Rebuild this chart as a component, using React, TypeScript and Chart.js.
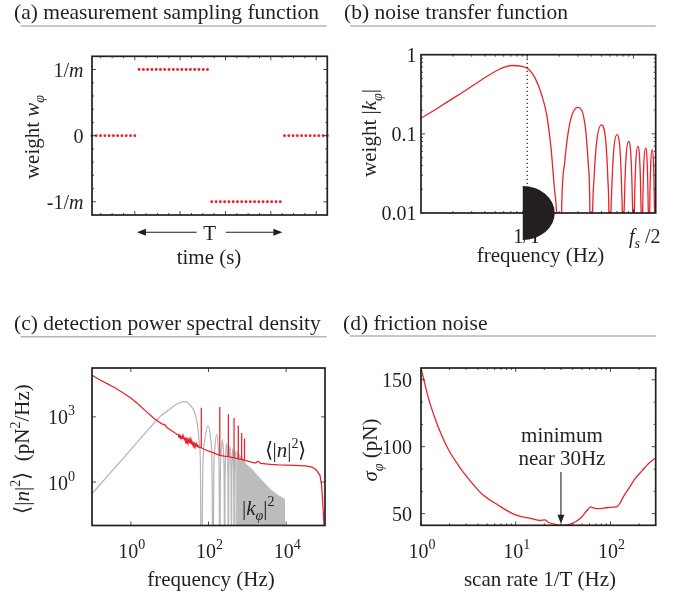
import React, { useEffect, useRef } from 'react';
import { Chart, registerables } from 'chart.js';
Chart.register(...registerables);

const SERIF = '"Liberation Serif", "Times New Roman", Times, serif';
const INK = '#231f20';
const RED = '#e8232b';
const GRAY = '#bcbcbc';
const RULE = '#b5b5b5';

type Part = { t: string; it?: boolean; sup?: boolean; sub?: boolean };

// ---------- (a) measurement sampling function ----------
const sampleIndex = [0, 1, 2, 3, 4, 5, 6, 7, 8, 9, 10, 11, 12, 13, 14, 15, 16, 17, 18, 19, 20, 21, 22, 23, 24, 25, 26, 27,
  28, 29, 30, 31, 32, 33, 34, 35, 36, 37, 38, 39, 40, 41, 42, 43, 44, 45, 46, 47, 48, 49, 50, 51, 52, 53, 54, 55];
const sampleWeight = [0, 0, 0, 0, 0, 0, 0, 0, 0, 0, 0,
  1, 1, 1, 1, 1, 1, 1, 1, 1, 1, 1, 1, 1, 1, 1, 1, 1,
  -1, -1, -1, -1, -1, -1, -1, -1, -1, -1, -1, -1, -1, -1, -1, -1, -1,
  0, 0, 0, 0, 0, 0, 0, 0, 0, 0, 0];
const weightTickValues = [1, 0, -1];
const weightTickLabels: Part[][] = [[{ t: '1/' }, { t: 'm', it: true }], [{ t: '0' }], [{ t: '-1/' }, { t: 'm', it: true }]];
const timeMajorTicks = [10, 20.6, 31.2, 41.8, 52.4];
const timeMinorTicks = [2.05, 4.7, 7.35, 12.65, 15.3, 17.95, 23.25, 25.9, 28.55, 33.85, 36.5, 39.15, 44.45, 47.1, 49.75];
const weightMinorTicks = [-0.8, -0.6, -0.4, -0.2, 0.2, 0.4, 0.6, 0.8];

// ---------- (b) noise transfer function (frequency in units of 1/T) ----------
const transferFreq = [0.1, 0.135, 0.18, 0.26, 0.37, 0.535, 0.62, 0.715, 0.89, 1.024, 1.184, 1.369, 1.526, 1.675, 1.8, 1.9, 1.96, 2,
  2.1, 2.25, 2.5, 3, 3.5, 3.75, 3.9, 4,
  4.1, 4.25, 4.5, 5, 5.5, 5.75, 5.9, 6,
  6.1, 6.25, 6.5, 7, 7.5, 7.75, 7.9, 8,
  8.1, 8.25, 8.5, 9, 9.5, 9.75, 9.9, 10,
  10.1, 10.25, 10.5, 11, 11.5, 11.75, 11.9, 12,
  12.1, 12.25, 12.5, 13, 13.5, 13.75, 13.9, 14,
  14.1, 14.25, 14.5, 15, 15.5, 15.75, 15.9, 16,
  16.1, 16.2];
const transferMag = [0.158, 0.2, 0.257, 0.35, 0.48, 0.645, 0.7, 0.73, 0.71, 0.66, 0.51, 0.31, 0.174, 0.066, 0.021, 0.009, 0.002, 0.00001,
  0.0086, 0.043, 0.13, 0.216, 0.13, 0.043, 0.0086, 0.00001,
  0.0052, 0.026, 0.078, 0.13, 0.078, 0.026, 0.0052, 0.00001,
  0.0039, 0.0195, 0.0585, 0.0975, 0.0585, 0.0195, 0.0039, 0.00001,
  0.0032, 0.016, 0.048, 0.08, 0.048, 0.016, 0.0032, 0.00001,
  0.0028, 0.0139, 0.0417, 0.0695, 0.0417, 0.0139, 0.0028, 0.00001,
  0.0026, 0.0132, 0.0396, 0.066, 0.0396, 0.0132, 0.0026, 0.00001,
  0.0025, 0.0126, 0.0378, 0.063, 0.0378, 0.0126, 0.0025, 0.00001,
  0.0025, 0.011];
const transferYTicks = [1, 0.1, 0.01];
const transferYLabels = ['1', '0.1', '0.01'];
const transferXTicks = [1, 16.2];
const transferXLabels: Part[][] = [[{ t: '1/T' }], [{ t: 'f', it: true }, { t: 's', it: true, sub: true }, { t: ' /2' }]];
const transferXMinor = [0.2, 0.3, 0.4, 0.5, 0.6, 0.7, 0.8, 0.9, 2, 3, 4, 5, 6, 7, 8, 9];
const transferXMajor = [1, 10];
const transferYMinor = [0.02, 0.03, 0.04, 0.05, 0.06, 0.07, 0.08, 0.09, 0.2, 0.3, 0.4, 0.5, 0.6, 0.7, 0.8, 0.9];
const transferYMajor = [0.1];

// ---------- (c) detection power spectral density ----------
const psdFreq = [0.1, 0.158, 0.258, 0.398, 0.569, 1, 1.53, 2.51, 4.12, 6.3, 7.6, 8.3, 9.06, 10.5, 12.6,
  64.5, 65, 65.5, 79, 120, 194.5, 195, 195.5, 251, 324.5, 325, 325.5, 454.5, 455, 455.5,
  584.5, 585, 585.5, 714.5, 715, 715.5, 844.5, 845, 845.5, 871,
  1259, 1660, 1820, 2000, 2190, 3980, 6300, 15800, 30900, 44700, 55000, 63100, 74100, 81300, 85100, 91200, 97700];
const psdPower = [83000, 51000, 32400, 21400, 14500, 7400, 3900, 1740, 794, 479, 430, 330, 302, 251, 200,
  38, 2630, 38, 31.6, 24, 17, 2820, 17, 15.8, 15, 1320, 15, 13, 890, 13,
  11.7, 400, 11.7, 11, 180, 11, 10, 100, 10, 10,
  8.3, 7.4, 8.9, 8.5, 7.2, 6.5, 6.2, 5.9, 5.6, 5.0, 4.1, 3.16, 2.04, 0.8, 0.245, 0.032, 0.0025];
// noisy stretch of the measured PSD between ~16 Hz and ~60 Hz, in log10 units
const psdFuzzLogFreq = [1.2, 1.215, 1.23, 1.245, 1.26, 1.275, 1.29, 1.305, 1.32, 1.335, 1.35, 1.365, 1.38, 1.395, 1.41,
  1.425, 1.44, 1.455, 1.47, 1.485, 1.5, 1.515, 1.53, 1.545, 1.56, 1.575, 1.59, 1.605, 1.62, 1.635, 1.65, 1.665, 1.68,
  1.695, 1.71, 1.725, 1.74, 1.755, 1.77, 1.79];
const psdFuzzLogPower = [2.18, 2.185, 2.128, 2.162, 2.097, 2.132, 2.056, 2.091, 2.026, 2.081, 1.995, 2.05, 1.955, 2.01, 1.914,
  1.999, 1.904, 1.978, 1.863, 1.938, 1.823, 1.897, 1.792, 1.887, 1.771, 1.846, 1.731, 1.806, 1.71, 1.785, 1.68, 1.735, 1.659,
  1.714, 1.629, 1.663, 1.608, 1.623, 1.588, 1.58];
const kernelFreq = [0.1, 0.3, 1, 3, 6, 10, 15, 20, 24.4, 30, 36, 42, 48, 54, 58, 62, 65,
  71.5, 81.25, 97.5, 113.75, 123.5, 130,
  136.5, 146.25, 162.5, 178.75, 188.5, 195,
  201.5, 211.25, 227.5, 243.75, 253.5, 260,
  266.5, 276.25, 292.5, 308.75, 318.5, 325,
  331.5, 341.25, 357.5, 373.75, 383.5, 390,
  396.5, 406.25, 422.5, 438.75, 448.5, 455,
  461.5, 471.25, 487.5, 503.75, 513.5, 520];
const kernelPower = [0.29, 2.7, 31, 295, 1120, 2240, 3800, 4790, 5010, 4360, 3020, 2000, 890, 250, 63, 6.3, 0.000001,
  4, 100, 400, 100, 4, 0.000001,
  1.6, 40, 158, 40, 1.6, 0.000001,
  0.89, 22, 89, 22, 0.89, 0.000001,
  0.6, 15, 60, 15, 0.6, 0.000001,
  0.46, 11.5, 46, 11.5, 0.46, 0.000001,
  0.36, 8.9, 35.5, 8.9, 0.36, 0.000001,
  0.28, 7, 28, 7, 0.28, 0.000001];
const kernelFillFreq = [520, 575, 716, 955, 1290, 2340, 4270, 6310, 9330];
const kernelFillPower = [25, 22.4, 13.2, 6.3, 4.0, 1.2, 0.4, 0.24, 0.158];
const psdXTicks = [1, 100, 10000];
const psdXExp = ['0', '2', '4'];
const psdYTicks = [1, 1000];
const psdYExp = ['0', '3'];

// ---------- (d) friction noise ----------
const scanRate = [1, 1.19, 1.41, 1.65, 1.94, 2.48, 3.16, 4.37, 6.54, 9.8, 14.7, 18, 20.4, 22, 26, 30.5, 35, 38.9, 44, 49.7,
  56, 61.7, 67, 74.2, 95, 116, 125, 136.5, 160, 181.6, 215, 250.8, 300];
const frictionNoise = [158.8, 137.1, 120.9, 108.5, 98.1, 86.1, 76.1, 64.9, 56.3, 49.3, 46.3, 44.9, 45.4, 43.6, 42.0, 41.3, 41.6,
  42.5, 44.5, 47.5, 52, 55, 54.2, 53.7, 54.6, 55, 57.5, 62.5, 70, 76.1, 82, 87.3, 91.6];
const noiseYTicks = [150, 100, 50];
const noiseYMinor = [66.7, 83.3, 116.7, 133.3];
const noiseXTicks = [1, 10, 100];
const noiseXExp = ['0', '1', '2'];
const noiseXMinor = [2, 3, 4, 5, 6, 7, 8, 9, 20, 30, 40, 50, 60, 70, 80, 90, 200, 300];

// ---------- drawing helpers ----------
function partFont(p: Part, size: number) {
  const s = p.sup || p.sub ? Math.round(size * 0.68) : size;
  return `${p.it ? 'italic ' : ''}${s}px ${SERIF}`;
}
function richWidth(ctx: CanvasRenderingContext2D, parts: Part[], size: number) {
  let w = 0;
  for (const p of parts) { ctx.font = partFont(p, size); w += ctx.measureText(p.t).width; }
  return w;
}
function drawRich(ctx: CanvasRenderingContext2D, parts: Part[], x: number, y: number, size: number, align = 'left') {
  const w = richWidth(ctx, parts, size);
  let cx = align === 'center' ? x - w / 2 : align === 'right' ? x - w : x;
  ctx.fillStyle = INK;
  ctx.textAlign = 'left';
  ctx.textBaseline = 'alphabetic';
  for (const p of parts) {
    ctx.font = partFont(p, size);
    const dy = p.sup ? -size * 0.45 : p.sub ? size * 0.25 : 0;
    ctx.fillText(p.t, cx, y + dy);
    cx += ctx.measureText(p.t).width;
  }
}
function drawRotated(ctx: CanvasRenderingContext2D, parts: Part[], cx: number, cy: number, size: number) {
  ctx.save();
  ctx.translate(cx, cy);
  ctx.rotate(-Math.PI / 2);
  drawRich(ctx, parts, 0, size * 0.3, size, 'center');
  ctx.restore();
}
function drawTitle(ctx: CanvasRenderingContext2D, text: string, x: number, y: number, x1: number, x2: number, ly: number) {
  drawRich(ctx, [{ t: text }], x, y, 21.5, 'left');
  ctx.beginPath();
  ctx.moveTo(x1, ly);
  ctx.lineTo(x2, ly);
  ctx.strokeStyle = RULE;
  ctx.lineWidth = 1.5;
  ctx.stroke();
}
function ticksX(ctx: CanvasRenderingContext2D, chart: any, values: number[], len: number) {
  const { top, bottom } = chart.chartArea;
  const sx = chart.scales.x;
  ctx.beginPath();
  for (const v of values) {
    const x = sx.getPixelForValue(v);
    ctx.moveTo(x, bottom); ctx.lineTo(x, bottom - len);
    ctx.moveTo(x, top); ctx.lineTo(x, top + len);
  }
  ctx.strokeStyle = INK; ctx.lineWidth = 0.8; ctx.stroke();
}
function ticksY(ctx: CanvasRenderingContext2D, chart: any, values: number[], len: number) {
  const { left, right } = chart.chartArea;
  const sy = chart.scales.y;
  ctx.beginPath();
  for (const v of values) {
    const y = sy.getPixelForValue(v);
    ctx.moveTo(left, y); ctx.lineTo(left + len, y);
    ctx.moveTo(right, y); ctx.lineTo(right - len, y);
  }
  ctx.strokeStyle = INK; ctx.lineWidth = 0.8; ctx.stroke();
}
function frame(ctx: CanvasRenderingContext2D, chart: any) {
  const { left, top, right, bottom } = chart.chartArea;
  ctx.strokeStyle = INK; ctx.lineWidth = 1.7;
  ctx.strokeRect(left, top, right - left, bottom - top);
}
function hArrow(ctx: CanvasRenderingContext2D, x1: number, y: number, x2: number) {
  const dir = Math.sign(x2 - x1);
  ctx.beginPath(); ctx.moveTo(x1, y); ctx.lineTo(x2 - dir * 6, y);
  ctx.strokeStyle = INK; ctx.lineWidth = 1.1; ctx.stroke();
  ctx.beginPath(); ctx.moveTo(x2, y); ctx.lineTo(x2 - dir * 9, y - 3.5); ctx.lineTo(x2 - dir * 9, y + 3.5); ctx.closePath();
  ctx.fillStyle = INK; ctx.fill();
}
function vArrow(ctx: CanvasRenderingContext2D, x: number, y1: number, y2: number) {
  ctx.beginPath(); ctx.moveTo(x, y1); ctx.lineTo(x, y2 - 6);
  ctx.strokeStyle = INK; ctx.lineWidth = 1.1; ctx.stroke();
  ctx.beginPath(); ctx.moveTo(x, y2); ctx.lineTo(x - 3.5, y2 - 9); ctx.lineTo(x + 3.5, y2 - 9); ctx.closePath();
  ctx.fillStyle = INK; ctx.fill();
}
const pow10 = (e: string): Part[] => [{ t: '10' }, { t: e, sup: true }];

function baseOptions(pad: any, xs: any, ys: any): any {
  return {
    animation: false,
    responsive: false,
    devicePixelRatio: 1,
    events: [],
    layout: { padding: pad },
    plugins: { legend: { display: false }, tooltip: { enabled: false } },
    scales: { x: { ...xs, display: false }, y: { ...ys, display: false } },
  };
}
const pts = (xs: number[], ys: number[]) => xs.map((x, i) => ({ x, y: ys[i] }));

// ---------- panels ----------
function makeA(cv: HTMLCanvasElement) {
  const plugin = {
    id: 'panelA',
    afterDraw(chart: any) {
      const ctx = chart.ctx as CanvasRenderingContext2D;
      const sx = chart.scales.x, sy = chart.scales.y;
      ctx.save();
      drawTitle(ctx, '(a) measurement sampling function', 14, 18.5, 20.7, 326.7, 26);
      ticksX(ctx, chart, timeMajorTicks, 4);
      ticksX(ctx, chart, timeMinorTicks, 2);
      ticksY(ctx, chart, weightTickValues, 4);
      ticksY(ctx, chart, weightMinorTicks, 2);
      frame(ctx, chart);
      weightTickValues.forEach((v, i) => drawRich(ctx, weightTickLabels[i], 83.5, sy.getPixelForValue(v) + 7, 20, 'right'));
      drawRotated(ctx, [{ t: 'weight ' }, { t: 'w', it: true }, { t: 'φ', it: true, sub: true }], 32.5, 137, 21);
      const y = 232.3;
      const xl = sx.getPixelForValue(10.5), xr = sx.getPixelForValue(44.5);
      const xm = (xl + xr) / 2;
      hArrow(ctx, xm - 13, y, xl);
      hArrow(ctx, xm + 16, y, xr);
      drawRich(ctx, [{ t: 'T' }], xm, 240, 21, 'center');
      drawRich(ctx, [{ t: 'time (s)' }], 209, 264, 21, 'center');
      ctx.restore();
    },
  };
  return new Chart(cv, {
    type: 'scatter',
    data: {
      datasets: [{
        data: pts(sampleIndex, sampleWeight),
        pointRadius: 1.45,
        pointBorderWidth: 0,
        pointBackgroundColor: RED,
        showLine: false,
        clip: false,
      } as any],
    },
    options: baseOptions({ left: 92, top: 56.3, right: 356.7, bottom: 382 },
      { type: 'linear', min: 0, max: 55 }, { type: 'linear', min: -1.2, max: 1.2 }),
    plugins: [plugin],
  });
}

function makeB(cv: HTMLCanvasElement) {
  const plugin = {
    id: 'panelB',
    afterDraw(chart: any) {
      const ctx = chart.ctx as CanvasRenderingContext2D;
      const sx = chart.scales.x, sy = chart.scales.y;
      const { top, bottom } = chart.chartArea;
      ctx.save();
      drawTitle(ctx, '(b) noise transfer function', 344, 18.5, 350, 655.7, 26);
      const xd = sx.getPixelForValue(1);
      ctx.beginPath(); ctx.setLineDash([1.3, 2.7]);
      ctx.moveTo(xd, top); ctx.lineTo(xd, bottom);
      ctx.strokeStyle = INK; ctx.lineWidth = 1.2; ctx.stroke();
      ctx.setLineDash([]);
      ticksX(ctx, chart, transferXMajor, 4);
      ticksX(ctx, chart, transferXMinor, 2);
      ticksY(ctx, chart, transferYMajor, 4);
      ticksY(ctx, chart, transferYMinor, 2);
      frame(ctx, chart);
      transferYTicks.forEach((v, i) => drawRich(ctx, [{ t: transferYLabels[i] }], 416.5, sy.getPixelForValue(v) + 7, 20, 'right'));
      drawRich(ctx, transferXLabels[0], sx.getPixelForValue(transferXTicks[0]), 243, 20, 'center');
      drawRich(ctx, transferXLabels[1], sx.getPixelForValue(transferXTicks[1]) - 11, 243, 20, 'center');
      drawRotated(ctx, [{ t: 'weight |' }, { t: 'k', it: true }, { t: 'φ', it: true, sub: true }, { t: '|' }], 370, 133, 21);
      drawRich(ctx, [{ t: 'frequency (Hz)' }], 540.5, 262, 21, 'center');
      // dark half-disc overlay at the 1/T tick
      ctx.beginPath();
      ctx.ellipse(xd - 4.5, bottom, 32, 27, 0, -Math.PI / 2, Math.PI / 2);
      ctx.closePath();
      ctx.fillStyle = INK; ctx.fill();
      ctx.restore();
    },
  };
  return new Chart(cv, {
    type: 'line',
    data: {
      datasets: [{
        data: pts(transferFreq, transferMag),
        borderColor: RED, borderWidth: 1.3, pointRadius: 0,
        cubicInterpolationMode: 'monotone', fill: false,
      } as any],
    },
    options: baseOptions({ left: 421, top: 54.7, right: 28.3, bottom: 384 },
      { type: 'logarithmic', min: 0.1, max: 16.2 }, { type: 'logarithmic', min: 0.01, max: 1 }),
    plugins: [plugin],
  });
}

function makeC(cv: HTMLCanvasElement) {
  const plugin = {
    id: 'panelC',
    afterDraw(chart: any) {
      const ctx = chart.ctx as CanvasRenderingContext2D;
      const sx = chart.scales.x, sy = chart.scales.y;
      ctx.save();
      drawTitle(ctx, '(c) detection power spectral density', 14, 329.5, 20.7, 326.7, 336.7);
      ticksX(ctx, chart, psdXTicks, 4);
      ticksY(ctx, chart, psdYTicks, 4);
      frame(ctx, chart);
      psdYTicks.forEach((v, i) => drawRich(ctx, pow10(psdYExp[i]), 75, sy.getPixelForValue(v) + 7.5, 20, 'right'));
      psdXTicks.forEach((v, i) => drawRich(ctx, pow10(psdXExp[i]), sx.getPixelForValue(v) + 1, 558, 20, 'center'));
      drawRotated(ctx, [{ t: '⟨|' }, { t: 'n', it: true }, { t: '|' }, { t: '2', sup: true }, { t: '⟩  (pN' }, { t: '2', sup: true }, { t: '/Hz)' }], 23, 449, 21);
      drawRich(ctx, [{ t: 'frequency (Hz)' }], 211, 585.5, 21, 'center');
      drawRich(ctx, [{ t: '⟨|' }, { t: 'n', it: true }, { t: '|' }, { t: '2', sup: true }, { t: '⟩' }], 285.5, 457, 21, 'center');
      drawRich(ctx, [{ t: '|' }, { t: 'k', it: true }, { t: 'φ', it: true, sub: true }, { t: '|' }, { t: '2', sup: true }], 242, 515, 21, 'left');
      ctx.restore();
    },
  };
  const red = pts(psdFreq, psdPower)
    .concat(psdFuzzLogFreq.map((lf, i) => ({ x: Math.pow(10, lf), y: Math.pow(10, psdFuzzLogPower[i]) })))
    .sort((p, q) => p.x - q.x);
  return new Chart(cv, {
    type: 'line',
    data: {
      datasets: [
        { data: red, borderColor: RED, borderWidth: 1.25, pointRadius: 0, tension: 0, fill: false, order: 0 } as any,
        { data: pts(kernelFreq, kernelPower), borderColor: '#b7b7b7', borderWidth: 1.25, pointRadius: 0, cubicInterpolationMode: 'monotone', fill: false, order: 1 } as any,
        { data: pts(kernelFillFreq, kernelFillPower), borderColor: GRAY, backgroundColor: GRAY, borderWidth: 0.8, pointRadius: 0, tension: 0, fill: 'start', order: 2 } as any,
      ],
    },
    options: baseOptions({ left: 92, top: 368, right: 359, bottom: 71.5 },
      { type: 'logarithmic', min: 0.1, max: 100000 }, { type: 'logarithmic', min: 0.01, max: 178000 }),
    plugins: [plugin],
  });
}

function makeD(cv: HTMLCanvasElement) {
  const plugin = {
    id: 'panelD',
    afterDraw(chart: any) {
      const ctx = chart.ctx as CanvasRenderingContext2D;
      const sx = chart.scales.x, sy = chart.scales.y;
      ctx.save();
      drawTitle(ctx, '(d) friction noise', 343, 329.5, 350, 655.7, 336);
      ticksX(ctx, chart, noiseXTicks, 4);
      ticksX(ctx, chart, noiseXMinor, 2);
      ticksY(ctx, chart, noiseYTicks, 4);
      ticksY(ctx, chart, noiseYMinor, 2);
      frame(ctx, chart);
      noiseYTicks.forEach((v) => drawRich(ctx, [{ t: String(v) }], 412, sy.getPixelForValue(v) + 7, 20, 'right'));
      noiseXTicks.forEach((v, i) => drawRich(ctx, pow10(noiseXExp[i]), sx.getPixelForValue(v) + 1, 558, 20, 'center'));
      drawRotated(ctx, [{ t: 'σ', it: true }, { t: 'φ', it: true, sub: true }, { t: ' (pN)' }], 371, 450, 21);
      drawRich(ctx, [{ t: 'scan rate 1/T (Hz)' }], 540, 585.5, 21, 'center');
      const xa = sx.getPixelForValue(30);
      drawRich(ctx, [{ t: 'minimum' }], xa + 1, 442, 21, 'center');
      drawRich(ctx, [{ t: 'near 30Hz' }], xa + 1, 465, 21, 'center');
      vArrow(ctx, xa, 472, sy.getPixelForValue(42.5));
      ctx.restore();
    },
  };
  return new Chart(cv, {
    type: 'line',
    data: {
      datasets: [{
        data: pts(scanRate, frictionNoise),
        borderColor: RED, borderWidth: 1.3, pointRadius: 0,
        cubicInterpolationMode: 'monotone', fill: false,
      } as any],
    },
    options: baseOptions({ left: 421, top: 368, right: 28.3, bottom: 71.7 },
      { type: 'logarithmic', min: 1, max: 300 }, { type: 'linear', min: 41.3, max: 158.8 }),
    plugins: [plugin],
  });
}

export default function App() {
  const ra = useRef<HTMLCanvasElement>(null);
  const rb = useRef<HTMLCanvasElement>(null);
  const rc = useRef<HTMLCanvasElement>(null);
  const rd = useRef<HTMLCanvasElement>(null);
  useEffect(() => {
    const charts = [makeA(ra.current!), makeB(rb.current!), makeC(rc.current!), makeD(rd.current!)];
    return () => charts.forEach((c) => c.destroy());
  }, []);
  const cs: React.CSSProperties = { position: 'absolute', left: 0, top: 0, width: 684, height: 597 };
  return (
    <div style={{ position: 'absolute', left: 0, top: 0, width: 684, height: 597, background: '#fff' }}>
      <canvas ref={ra} width={684} height={597} style={cs} />
      <canvas ref={rb} width={684} height={597} style={cs} />
      <canvas ref={rc} width={684} height={597} style={cs} />
      <canvas ref={rd} width={684} height={597} style={cs} />
    </div>
  );
}
